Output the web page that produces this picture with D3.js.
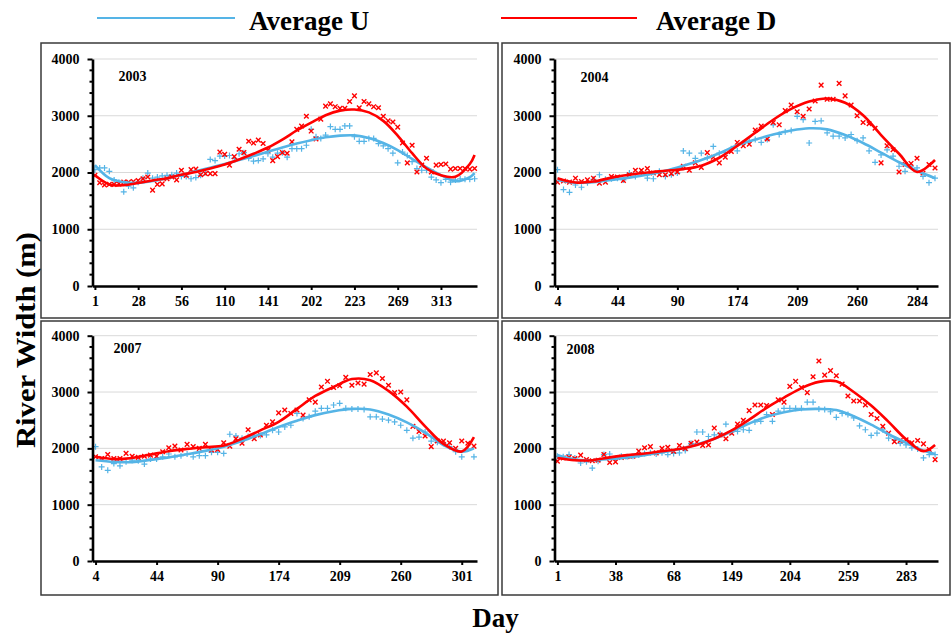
<!DOCTYPE html>
<html>
<head>
<meta charset="utf-8">
<script src="https://cdn.jsdelivr.net/npm/d3@7"></script>
<style>
body { margin: 0; background: #fff; }
text { font-family: "Liberation Serif", "Times New Roman", serif; font-weight: bold; fill: #000; }
</style>
</head>
<body>
<script>
/* Data: one value per observation, x axis is the observation order */
var years = ["2003", "2004", "2007", "2008"];

var days2003 = ["1", "28", "56", "110", "141", "202", "223", "269", "313"];
var days2004 = ["4", "44", "90", "174", "209", "260", "284"];
var days2007 = ["4", "44", "90", "174", "209", "260", "301"];
var days2008 = ["1", "38", "68", "149", "204", "259", "283"];

var u2003 = [2050,2080,2080,2020,1870,1830,1660,1760,1730,1830,
  1900,1990,1900,1920,1940,1950,1960,1990,1930,1930,
  1890,1910,1950,2000,2230,2210,2290,2290,2300,2250,
  2330,2350,2250,2200,2210,2240,2330,2270,2340,2350,
  2270,2420,2420,2420,2480,2760,2630,2600,2660,2810,
  2760,2760,2820,2820,2630,2550,2550,2600,2600,2510,
  2470,2420,2340,2170,2360,2300,2190,2070,2040,2040,
  1920,1870,1820,1880,1830,1870,1890,1880,1880,1890];
var d2003 = [1950,1820,1780,1790,1790,1800,1830,1830,1840,1860,
  1890,1920,1690,1790,1800,1890,1920,1870,2040,1950,
  2050,2060,1960,1980,1980,1980,2360,2320,2130,2280,
  2410,2350,2550,2520,2570,2510,2390,2210,2280,2350,
  2340,2540,2760,2820,2990,2730,2590,2940,3170,3210,
  3160,3130,3130,3250,3350,3140,3250,3210,3160,3140,
  2990,2910,2890,2800,2520,2170,2480,2010,2130,2250,
  2010,2130,2140,2150,2060,2070,2070,2070,2060,2070];

var u2004 = [2050,1700,1650,1780,1740,1820,1880,1960,1880,1890,
  1900,1870,1990,1930,2000,1900,1890,2020,1930,1960,
  1990,2380,2340,2250,2340,2260,2460,2340,2350,2420,
  2380,2520,2550,2580,2530,2580,2840,2670,2720,2740,
  2990,2930,2520,2900,2910,2700,2640,2640,2610,2670,
  2560,2610,2380,2180,2310,2400,2290,2110,2020,2110,
  2080,1930,1820,1900];
var d2004 = [1830,1850,1830,1900,1840,1870,1900,1810,1830,1930,
  1920,1860,1960,2040,2040,2070,1990,1960,1960,1980,
  2010,2110,2040,2170,2090,2350,2270,2170,2270,2370,
  2530,2470,2500,2750,2820,2590,2880,2840,3090,3190,
  3070,2990,3120,3260,3540,3290,3290,3570,3350,3190,
  3000,2880,2860,2780,2170,2470,2400,2010,2140,2160,
  2250,1990,2140,2080];

var u2007 = [2030,1670,1610,1730,1690,1760,1790,1780,1720,1810,
  1810,1850,1900,1850,1870,1900,1850,1870,1870,1930,
  1930,1910,2250,2220,2180,2210,2230,2230,2240,2320,
  2290,2380,2410,2620,2530,2560,2660,2710,2710,2770,
  2800,2710,2700,2700,2690,2560,2560,2520,2500,2470,
  2410,2320,2180,2200,2290,2130,2110,2090,2030,1940,
  1850,1990,1850];
var d2007 = [1850,1820,1890,1820,1820,1910,1860,1840,1860,1880,
  1860,1940,2010,2040,1970,2070,2030,2000,2070,1970,
  1980,2100,2040,2170,2090,2330,2170,2240,2410,2470,
  2630,2680,2620,2680,2590,2860,2820,3090,3190,3080,
  3110,3260,3120,3160,3140,3310,3340,3240,3120,2990,
  3000,2860,2390,2300,2220,2030,2130,2130,2100,2000,
  2130,2090,2040];

var u2008 = [1860,1850,1890,1830,1740,1760,1650,1770,1890,1900,
  1820,1860,1850,1860,1880,1910,1920,1900,1920,1890,
  1910,1920,1960,2090,2290,2290,2210,2240,2260,2430,
  2290,2300,2330,2320,2470,2480,2600,2480,2660,2710,
  2710,2710,2710,2820,2820,2700,2690,2650,2550,2620,
  2600,2540,2400,2330,2230,2270,2330,2180,2150,2090,
  2060,2010,1990,1830,1890,1890];
var d2008 = [1770,1830,1840,1820,1880,1800,1780,1790,1890,1750,
  1760,1840,1850,1860,1950,2010,2030,1920,2000,2020,
  1950,2050,2000,2090,2110,2050,2060,2360,2240,2170,
  2270,2430,2500,2670,2770,2770,2760,2600,2860,2820,
  3100,3190,3080,2990,3270,3550,3300,3380,3290,3140,
  2930,2840,2840,2770,2600,2530,2390,2270,2120,2140,
  2150,2100,2140,2080,1980,1800];

// trend lines, read at every 3rd observation (and the last one)
var uTrend2003 = [2130,1900,1830,1815,1850,1900,1955,2020,2085,2150,2220,2290,2365,2440,2510,2570,2620,2650,2655,2610,2520,2395,2240,2090,1955,1845,1920,1990];
var dTrend2003 = [1950,1790,1775,1815,1860,1900,1960,2010,2070,2140,2230,2330,2440,2580,2740,2880,3010,3090,3110,3060,2910,2650,2340,2070,1950,1925,2150,2310];
var uTrend2004 = [1870,1820,1830,1870,1910,1960,2030,2120,2220,2340,2480,2580,2670,2740,2780,2760,2660,2520,2350,2180,2030,1900];
var dTrend2004 = [1900,1825,1840,1910,1960,2000,2030,2060,2120,2260,2470,2700,2930,3120,3250,3305,3230,3010,2660,2330,2010,2220];
var uTrend2007 = [1790,1760,1755,1795,1840,1895,1955,2030,2130,2250,2380,2490,2590,2660,2700,2690,2600,2460,2280,2060,1940,2000];
var dTrend2007 = [1850,1810,1830,1890,1950,1990,2020,2050,2170,2320,2470,2700,2930,3090,3230,3210,3020,2740,2390,2080,1945,2200];
var uTrend2008 = [1880,1800,1790,1810,1840,1880,1930,1990,2070,2170,2300,2440,2560,2640,2690,2700,2680,2570,2420,2250,2100,1960,1900];
var dTrend2008 = [1830,1790,1790,1840,1880,1910,1950,1990,2060,2170,2320,2510,2720,2900,3070,3180,3190,3000,2760,2470,2160,1950,2060];

var yTicks = [0, 1000, 2000, 3000, 4000];
var legendNames = ["Average U", "Average D"];

/* Layout */
var WIDTH = 952;
var HEIGHT = 637;
var BLUE = "#55b4e6";
var RED = "#ff0000";
var COLS = [{box: [41, 498], axis: [92.5, 477]}, {box: [502, 950], axis: [554.5, 938]}];
var ROWS = [{box: [43, 318], y: [59, 286]}, {box: [321, 595], y: [335.7, 561]}];

var panels = [
  {year: years[0], labels: days2003, step: 9, u: u2003, d: d2003, uT: uTrend2003, dT: dTrend2003, col: 0, row: 0, yl: [26, 22]},
  {year: years[1], labels: days2004, step: 10, u: u2004, d: d2004, uT: uTrend2004, dT: dTrend2004, col: 1, row: 0, yl: [26, 23]},
  {year: years[2], labels: days2007, step: 10, u: u2007, d: d2007, uT: uTrend2007, dT: dTrend2007, col: 0, row: 1, yl: [21, 17.5]},
  {year: years[3], labels: days2008, step: 10, u: u2008, d: d2008, uT: uTrend2008, dT: dTrend2008, col: 1, row: 1, yl: [12, 18.5]}
];

var svg = d3.select("body").append("svg")
    .attr("width", WIDTH)
    .attr("height", HEIGHT);

svg.append("rect").attr("width", WIDTH).attr("height", HEIGHT).attr("fill", "#fff");

panels.forEach(drawPanel);

function drawPanel(p) {
  var col = COLS[p.col], row = ROWS[p.row];
  var n = p.u.length;
  var g = svg.append("g");

  g.append("rect")
      .attr("x", col.box[0]).attr("y", row.box[0])
      .attr("width", col.box[1] - col.box[0]).attr("height", row.box[1] - row.box[0])
      .attr("fill", "none").attr("stroke", "#3a3a3a").attr("stroke-width", 1.5);

  var x = d3.scalePoint().domain(d3.range(n)).range(col.axis).padding(0.5);
  var y = d3.scaleLinear().domain([0, 4000]).range([row.y[1], row.y[0]]);

  // gridlines
  g.append("g").selectAll("line")
      .data(yTicks.slice(1))
      .join("line")
      .attr("x1", col.axis[0]).attr("x2", col.axis[1])
      .attr("y1", y).attr("y2", y)
      .attr("stroke", "#d9d9d9").attr("stroke-width", 1);

  // scatter
  var plus = "M-3,0H3M0,-3V3";
  var cross = "M-2.3,-2.3L2.3,2.3M-2.3,2.3L2.3,-2.3";
  g.append("g").selectAll("path")
      .data(p.u)
      .join("path")
      .attr("d", plus)
      .attr("transform", (v, i) => "translate(" + x(i) + "," + y(v) + ")")
      .attr("stroke", BLUE).attr("stroke-width", 1.2);
  g.append("g").selectAll("path")
      .data(p.d)
      .join("path")
      .attr("d", cross)
      .attr("transform", (v, i) => "translate(" + x(i) + "," + y(v) + ")")
      .attr("stroke", RED).attr("stroke-width", 1.4);

  // trend lines
  var idx = d3.range(0, n, 3);
  if (idx[idx.length - 1] !== n - 1) idx.push(n - 1);
  var line = d3.line()
      .x((v, i) => x(idx[i]))
      .y(v => y(v))
      .curve(d3.curveCatmullRom.alpha(0.5));
  g.append("path").attr("d", line(p.uT))
      .attr("fill", "none").attr("stroke", BLUE).attr("stroke-width", 2.6);
  g.append("path").attr("d", line(p.dT))
      .attr("fill", "none").attr("stroke", RED).attr("stroke-width", 2.6);

  // y axis with minor ticks
  var minor = d3.range(200, 4000, 200).filter(v => v % 1000 !== 0);
  g.append("g").selectAll("line")
      .data(minor)
      .join("line")
      .attr("x1", col.axis[0] - 3).attr("x2", col.axis[0])
      .attr("y1", y).attr("y2", y)
      .attr("stroke", "#000").attr("stroke-width", 2);

  var yAxis = g.append("g")
      .attr("transform", "translate(" + col.axis[0] + ",0)")
      .call(d3.axisLeft(y).tickValues(yTicks).tickFormat(d3.format("d"))
        .tickSize(5).tickSizeOuter(0).tickPadding(8));
  yAxis.select(".domain").attr("stroke-width", 2.6);
  yAxis.selectAll(".tick line").attr("stroke-width", 2);
  yAxis.selectAll("text").attr("font-size", 14).attr("font-family", null);

  var xAxis = g.append("g")
      .attr("transform", "translate(0," + row.y[1] + ")")
      .call(d3.axisBottom(x)
        .tickValues(d3.range(0, n, p.step).slice(0, p.labels.length))
        .tickFormat((d, i) => p.labels[i])
        .tickSize(4).tickSizeOuter(0).tickPadding(6));
  xAxis.select(".domain").attr("stroke-width", 2.6);
  xAxis.selectAll(".tick line").attr("stroke-width", 2);
  xAxis.selectAll("text").attr("font-size", 14).attr("font-family", null);

  g.append("text")
      .attr("x", col.axis[0] + p.yl[0])
      .attr("y", row.y[0] + p.yl[1])
      .attr("font-size", 14)
      .text(p.year);
}

/* Legend */
var legend = svg.append("g");
[[97, 235, 249, BLUE], [501, 637, 656, RED]].forEach(function(l, i) {
  legend.append("line")
      .attr("x1", l[0]).attr("x2", l[1]).attr("y1", 18).attr("y2", 18)
      .attr("stroke", l[3]).attr("stroke-width", 2);
  legend.append("text")
      .attr("x", l[2]).attr("y", 30)
      .attr("font-size", 27)
      .text(legendNames[i]);
});

/* Axis titles */
svg.append("text")
    .attr("x", 495.5).attr("y", 627)
    .attr("text-anchor", "middle")
    .attr("font-size", 27)
    .text("Day");

svg.append("text")
    .attr("transform", "translate(35,340) rotate(-90)")
    .attr("text-anchor", "middle")
    .attr("font-size", 28)
    .attr("textLength", 216)
    .attr("lengthAdjust", "spacingAndGlyphs")
    .text("River Width (m)");
</script>
</body>
</html>
